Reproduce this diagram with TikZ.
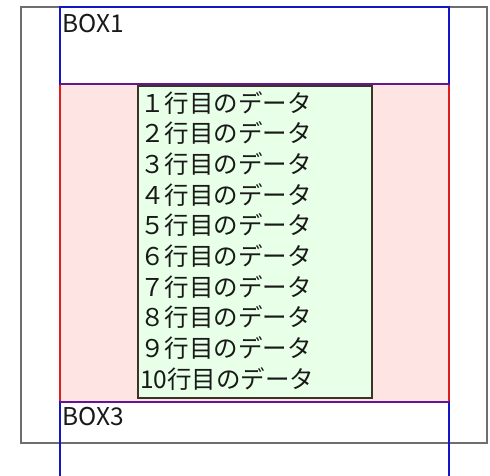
\documentclass[tikz,border=0pt]{standalone}
\usepackage{fontspec}
\setmainfont{Noto Sans CJK JP}
\definecolor{outergray}{RGB}{110,110,110}
\definecolor{boxblue}{RGB}{20,20,200}
\definecolor{boxred}{RGB}{220,30,30}
\definecolor{boxpurple}{RGB}{100,20,150}
\definecolor{pinkfill}{RGB}{255,228,228}
\definecolor{greenfill}{RGB}{232,255,232}
\definecolor{greenedge}{RGB}{60,50,40}
\begin{document}
\begin{tikzpicture}[x=1pt,y=-1pt,
  rect/.style={inner sep=0pt,outer sep=0pt,anchor=north west,line width=1.3pt},
  lbl/.style={inner sep=0pt,anchor=base west,text=black!90,font=\fontsize{24.5}{24.5}\selectfont}]
\clip (0,0) rectangle (490,475);
\useasboundingbox (0,0) rectangle (490,475);
\fill[white] (0,0) rectangle (490,475);
% outer gray frame
\node[rect,draw=outergray,minimum width=466pt,minimum height=436pt] (outer) at (21,7) {};
% BOX2 (pink)
\node[rect,draw=boxred,fill=pinkfill,minimum width=389pt,minimum height=318pt] (box2) at (60,84) {};
% BOX1
\node[rect,draw=boxblue,fill=white,minimum width=389pt,minimum height=77pt] (box1) at (60,7) {};
% BOX3 (runs past the bottom)
\node[rect,draw=boxblue,minimum width=389pt,minimum height=120pt] (box3) at (60,402) {};
% purple shared edges
\draw[boxpurple,line width=2.2pt] (box1.south west) -- (box1.south east);
\draw[boxpurple,line width=2.2pt] (box3.north west) -- (box3.north east);
% green list box
\node[rect,draw=greenedge,fill=greenfill,minimum width=234pt,minimum height=312pt] (list) at (138,86) {};
% labels
\node[lbl] (t1) at (62,32) {BOX1};
\node[lbl] (t3) at (62,425) {BOX3};
\foreach \t [count=\i] in {１行目のデータ,２行目のデータ,３行目のデータ,４行目のデータ,５行目のデータ,６行目のデータ,７行目のデータ,８行目のデータ,９行目のデータ,10行目のデータ}
  \node[lbl] (r\i) at (140,{112+30.7*(\i-1)}) {\t};
\end{tikzpicture}
\end{document}
